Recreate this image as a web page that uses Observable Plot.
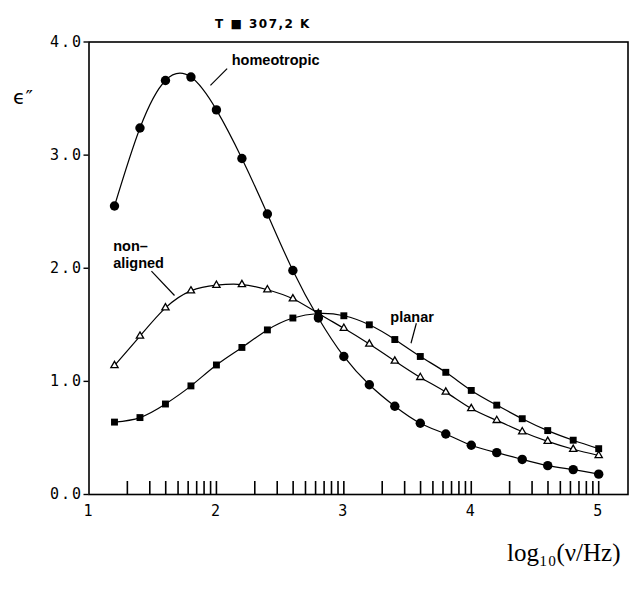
<!DOCTYPE html>
<html><head><meta charset="utf-8">
<script src="https://cdn.jsdelivr.net/npm/d3@7"></script>
<script src="https://cdn.jsdelivr.net/npm/@observablehq/plot@0.6"></script>
<style>
html,body{margin:0;padding:0;background:#fff;}
#chart svg{overflow:visible;}
#chart svg [aria-label="y-axis tick label"], #chart svg [aria-label="x-axis tick label"]{letter-spacing:2px;}
#chart svg .title text{letter-spacing:1.5px;}
</style></head><body><div id="chart"></div>
<script>
// x: log10(frequency / Hz)
const logFreq = [1.2,1.4,1.6,1.8,2.0,2.2,2.4,2.6,2.8,3.0,3.2,3.4,3.6,3.8,4.0,4.2,4.4,4.6,4.8,5.0];
// epsilon'' values
const homeotropic = [2.55,3.24,3.66,3.69,3.40,2.97,2.48,1.98,1.56,1.22,0.97,0.78,0.63,0.535,0.435,0.37,0.31,0.255,0.22,0.18];
const nonAligned  = [1.14,1.40,1.65,1.80,1.85,1.856,1.81,1.73,1.60,1.47,1.33,1.18,1.035,0.905,0.76,0.655,0.555,0.47,0.40,0.345];
const planar      = [0.64,0.68,0.80,0.96,1.145,1.30,1.455,1.56,1.60,1.58,1.50,1.37,1.22,1.08,0.92,0.79,0.67,0.565,0.48,0.405];

const yTicks = [0,1,2,3,4];
const xTicks = [1,2,3,4,5];
const decades = [1,2,3,4];
const multipliers = [2,3,4,5,6,7,8,9,10];
const minorTicks = decades.flatMap(d => multipliers.map(m => d + Math.log10(m)));

const titleText = "T ■ 307,2 K";
const yLabel = "ϵ″";
const xLabel = "log₁₀(ν/Hz)";

const labels = [
  {text: "homeotropic", x: 2.12, y: 3.836},
  {text: "non–", x: 1.19, y: 2.195},
  {text: "aligned", x: 1.19, y: 2.04},
  {text: "planar", x: 3.365, y: 1.569}
];
const leaders = [
  {x1: 2.084, y1: 3.764, x2: 1.953, y2: 3.616},
  {x1: 1.49, y1: 1.975, x2: 1.671, y2: 1.759},
  {x1: 3.569, y1: 1.514, x2: 3.527, y2: 1.337}
];

const rowsH = logFreq.map((x, i) => ({x, y: homeotropic[i]}));
const rowsN = logFreq.map((x, i) => ({x, y: nonAligned[i]}));
const rowsP = logFreq.map((x, i) => ({x, y: planar[i]}));

const line = (rows) => Plot.line(rows, {x: "x", y: "y", curve: "natural", stroke: "black", strokeWidth: 1.2});

const chart = Plot.plot({
  width: 629,
  height: 591,
  marginLeft: 88.5,
  marginRight: 1.5,
  marginTop: 41.5,
  marginBottom: 97,
  style: {fontFamily: "DejaVu Sans Mono", fontSize: "15px", color: "black", background: "white"},
  x: {domain: [1, 5.23]},
  y: {domain: [0, 4]},
  marks: [
    Plot.frame({stroke: "black", strokeWidth: 1.6}),
    Plot.axisY({ticks: yTicks, tickFormat: d3.format(".1f"), tickSize: 5, tickPadding: 1, label: null, strokeWidth: 1.4}),
    Plot.axisX({ticks: xTicks, tickFormat: d3.format("d"), tickSize: 0, tickPadding: 11, label: null}),
    Plot.ruleX(minorTicks, {x: d => d, y1: 0, y2: 0.115, stroke: "black", strokeWidth: 1.6}),
    line(rowsH), line(rowsN), line(rowsP),
    Plot.dot(rowsN, {x: "x", y: "y", symbol: "triangle", r: 2.7, fill: "white", stroke: "black", strokeWidth: 1.3}),
    Plot.dot(rowsP, {x: "x", y: "y", symbol: "square", r: 3.9, fill: "black"}),
    Plot.dot(rowsH, {x: "x", y: "y", symbol: "circle", r: 4.7, fill: "black"}),
    Plot.link(leaders, {x1: "x1", y1: "y1", x2: "x2", y2: "y2", stroke: "black", strokeWidth: 1.2}),
    Plot.text(labels, {x: "x", y: "y", text: "text", textAnchor: "start", fontFamily: "Liberation Sans", fontWeight: "bold", fontSize: 14.5}),
    Plot.text([titleText], {frameAnchor: "top-left", dx: 174, dy: -23, textAnchor: "middle", fontFamily: "DejaVu Sans", fontWeight: "bold", fontSize: 12, className: "title"}),
    Plot.text([yLabel], {frameAnchor: "top-left", dx: -66, dy: 48, textAnchor: "middle", fontFamily: "DejaVu Sans", fontSize: 20}),
    Plot.text([xLabel], {frameAnchor: "bottom-right", dx: -7.5, dy: 66, textAnchor: "end", fontFamily: "Liberation Serif", fontSize: 25})
  ]
});
document.getElementById("chart").appendChild(chart);
</script></body></html>
